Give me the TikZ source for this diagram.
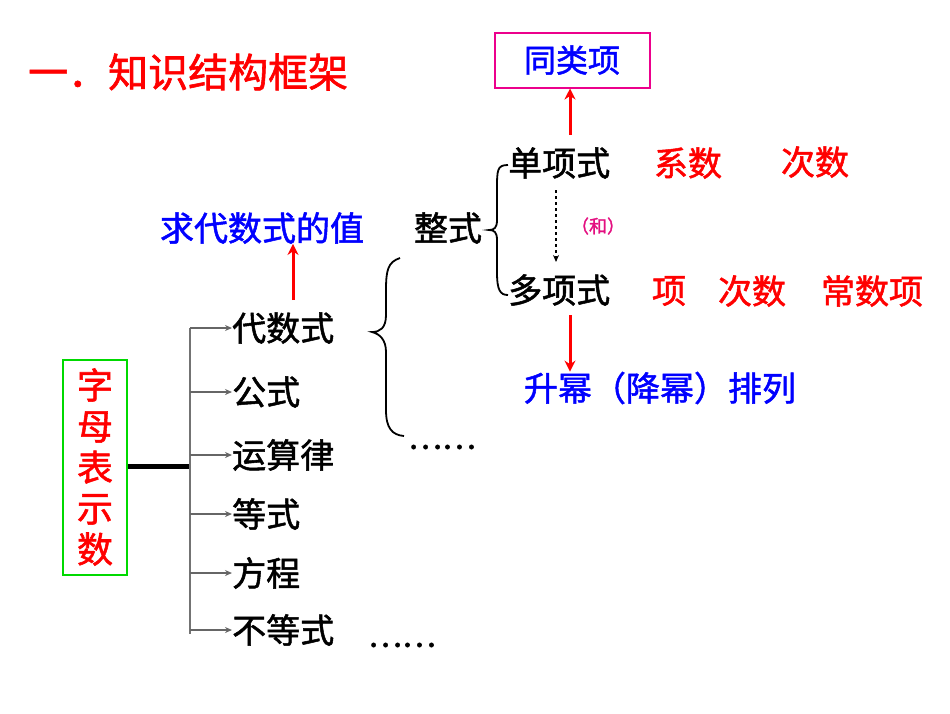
\documentclass[tikz,border=0pt]{standalone}
\usepackage{fontspec}
\usetikzlibrary{arrows.meta}
\setmainfont{Noto Sans CJK SC}[FakeBold=1.5]
\begin{document}
\begin{tikzpicture}[x=1pt,y=-1pt,
  txt/.style={font=\fontsize{34}{36}\selectfont, inner sep=0pt},
  ttl/.style={font=\fontsize{40}{42}\selectfont, inner sep=0pt, text=red},
  rarr/.style={draw=red, line width=3pt, -{Stealth[length=11pt,width=11pt]}},
  barr/.style={draw=black!60, line width=1.3pt, -{Stealth[length=7pt,width=6pt]}},
  >=Stealth]
\useasboundingbox (0,0) rectangle (950,713);
\node[ttl, anchor=west] (title) at (28,72) {一．知识结构框架};
\node[draw=magenta, line width=2pt, minimum width=155, minimum height=55, text=blue, font=\fontsize{32}{34}\selectfont] (tlx) at (572,60) {同类项};
\node[txt, anchor=west] (dan) at (508,163) {单项式};
\node[txt, text=red] (xs) at (688,163) {系数};
\node[txt, text=red] (cs1) at (815,162) {次数};
\node[txt, anchor=west] (duo) at (508,290) {多项式};
\node[txt, text=red] (xiang) at (669,291) {项};
\node[txt, text=red] (cs2) at (752,291) {次数};
\node[txt, text=red] (csx) at (872,291) {常数项};
\node[inner sep=0pt, text=magenta!80!purple, font=\fontsize{18}{20}\selectfont] (he) at (598,226) {（和）};
\node[txt, text=blue] (sm) at (660,388) {升幂（降幂）排列};
\node[txt] (zs) at (448,228) {整式};
\node[txt, text=blue] (qz) at (262,228) {求代数式的值};
\coordinate (a1) at (570,135); \coordinate (a2) at (570,315);
\draw[rarr] (a1) -- (tlx.south -| a1);
\draw[rarr] (a2) -- (sm.north -| a2);
\draw[dashed, line width=1.5pt, -{Stealth[length=7pt,width=6pt]}] (556,190) -- (556,262);
\draw[line width=1.8pt] (508,165) .. controls (497,165) and (497,170) .. (497,190) -- (497,220) .. controls (497,228) and (494,230) .. (489,230) .. controls (494,230) and (497,232) .. (497,240) -- (497,272) .. controls (497,290) and (500,295) .. (508,295);
\node[draw=green!85!black, line width=2pt, minimum width=64, minimum height=215, inner sep=0pt] (zm) at (95,467) {};
\node[inner sep=0pt, text=red, font=\fontsize{36}{41}\selectfont, align=center] at (zm.center) {字\\母\\表\\示\\数};
\coordinate (j) at (190,466);
\draw[line width=5pt] (zm.east |- j) -- (j);
\draw[black!55, line width=1.5pt] (190,328) -- (190,634);
\foreach \y/\t/\n in {328/代数式/b1,392/公式/b2,455/运算律/b3,514/等式/b4,573/方程/b5,630/不等式/b6}{
  \node[txt, anchor=west] (\n) at (232,\y) {\t};
  \draw[barr] (190,\y) -- (\n.west);
}
\draw[rarr] (293,300) -- (qz.south -| 293,0);
\draw[line width=1.8pt] (400,258) .. controls (388,262) and (386,270) .. (386,290) -- (386,315) .. controls (386,328) and (380,332) .. (372,332) .. controls (380,334) and (386,340) .. (386,352) -- (386,410) .. controls (386,428) and (392,435) .. (404,436);
\node[inner sep=0pt, font=\fontsize{32}{34}\selectfont] (d1) at (442,447) {……};
\node[inner sep=0pt, font=\fontsize{32}{34}\selectfont] (d2) at (402,645) {……};
\end{tikzpicture}
\end{document}
